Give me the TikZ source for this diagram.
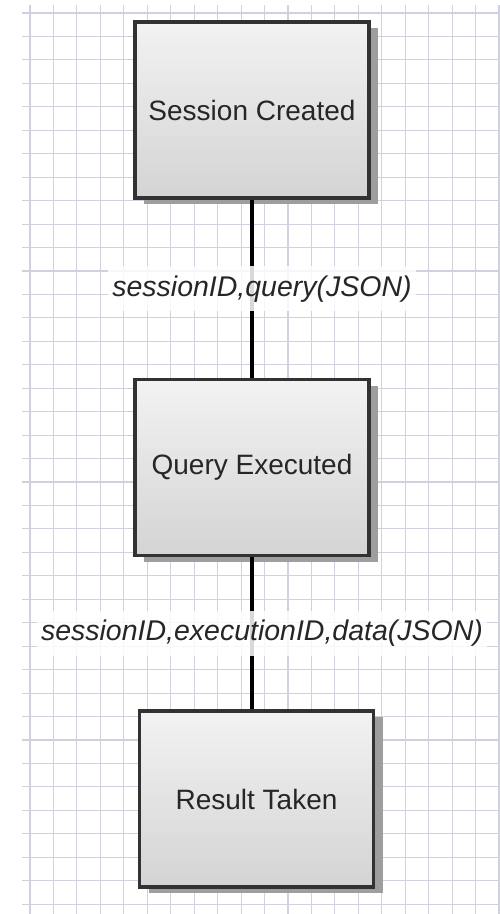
\documentclass[tikz,border=0pt]{standalone}
\usepackage{fontspec}
\setmainfont{Liberation Sans}
\usetikzlibrary{positioning}
\usetikzlibrary{shadows}
\definecolor{gridblue}{RGB}{208,208,222}
\definecolor{boxedge}{RGB}{50,50,50}
\tikzset{state/.style={draw=boxedge,line width=3.5bp,minimum width=234bp,minimum height=176bp,
                       top color=black!5,bottom color=black!17,
                       drop shadow={shadow xshift=9bp,shadow yshift=-6bp,fill=black!38,opacity=1},
                       font=\fontsize{28bp}{30bp}\selectfont,text=black!85},
         msg/.style={fill=white,fill opacity=0.85,text opacity=1,inner xsep=4bp,inner ysep=9bp,
                     font=\fontsize{28.5bp}{30bp}\selectfont\itshape,text=black!85},
         link/.style={line width=4bp},
         gridline/.style={gridblue,line width=1.1bp},
         }
\begin{document}
\begin{tikzpicture}[x=1bp,y=-1bp]
		\useasboundingbox (0,0) rectangle (500,914);
		\fill[white] (0,0) rectangle (500,914);
		% grid paper
		\foreach \gx in {0,...,20}
		  \draw[gridline] (30+23.45*\gx,5) -- (30+23.45*\gx,914);
		\foreach \gy in {0,...,38}
		  \draw[gridline] (22,13+23.45*\gy) -- (500,13+23.45*\gy);
		% states
		\node[state] (session) at (252,110) {Session Created};
		\node[state,below=178bp of session] (query) {Query Executed};
		\node[state,below=152bp of query,xshift=4.5bp] (result) {Result Taken};
		% transitions
		\draw[link] (session) -- node[msg,xshift=10bp] {sessionID,query(JSON)} (query);
		\draw[link] (query) -- node[msg,xshift=10bp] {sessionID,executionID,data(JSON)} (query |- result.north);
		\end{tikzpicture}
\end{document}
